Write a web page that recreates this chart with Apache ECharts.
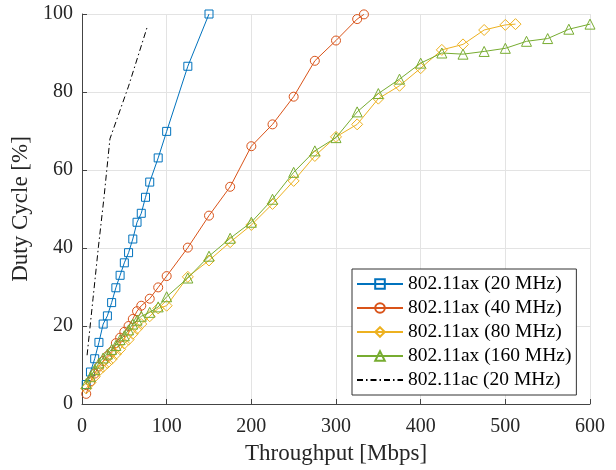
<!DOCTYPE html>
<html><head><meta charset="utf-8">
<script src="https://cdn.jsdelivr.net/npm/echarts@6/dist/echarts.min.js"></script>
<style>html,body{margin:0;padding:0;background:#fff}#c{width:616px;height:470px}</style>
</head><body><div id="c"></div>
<script>
const seriesNames = ['802.11ax (20 MHz)','802.11ax (40 MHz)','802.11ax (80 MHz)','802.11ax (160 MHz)','802.11ac (20 MHz)'];
const xTicks = [0,100,200,300,400,500,600];
const yTicks = [0,20,40,60,80,100];

const ax20X = [5,10,15,20,25,30,35,40,45,50,55,60,65,70,75,80,90,100,125,150];
const ax20Y = [5,8.2,11.6,15.8,20.5,22.6,26,29.8,33,36.2,38.8,42.3,46.6,48.9,53,56.9,63.1,69.9,86.6,100];

const ax40X = [5,10,15,20,25,30,35,40,45,50,55,60,65,70,80,90,100,125,150,175,200,225,250,275,300,325,333];
const ax40Y = [2.6,5.8,7.8,9.6,11,12.3,13.4,15.6,17,18.5,20,21.8,23.8,25.2,27,29.9,32.8,40.1,48.3,55.7,66.1,71.7,78.8,88,93.2,98.7,99.9];

const ax80X = [5,10,15,20,25,30,35,40,45,50,55,60,65,70,80,90,100,125,150,175,200,225,250,275,300,325,350,375,400,425,450,475,500,512];
const ax80Y = [4,5.5,7,8.5,9.5,10.5,11.5,12.8,14,15.5,16.5,18,19.3,20.5,22.5,24.5,25.2,32.6,36.8,41.5,45.9,51.3,57.2,63.6,68.5,71.7,78.3,81.6,86.1,90.8,92.2,95.9,97.2,97.4];

const ax160X = [5,10,15,20,25,30,35,40,45,50,55,60,65,70,80,90,100,125,150,175,200,225,250,275,300,325,350,375,400,425,450,475,500,525,550,575,600];
const ax160Y = [5.2,7,8.8,10.5,11.8,12.8,14,15,16.5,17.5,19,20.5,21.5,22.5,23.5,24.9,27.5,32.3,37.9,42.5,46.6,52.5,59.4,64.9,68.3,74.9,79.6,83.3,87.4,90,89.7,90.4,91.2,93,93.7,96.1,97.4];

const ac20X = [6,13,19.5,26,33,55,77.5];
const ac20Y = [12.5,27,40.5,53,68,81.5,97];

const colors = ['#0072BD','#D95319','#EDB120','#77AC30','#000000'];
const symbols = ['rect','circle','diamond','triangle','circle'];
const sizes = [8,9,11,10,0];
const xs = [ax20X, ax40X, ax80X, ax160X, ac20X];
const ys = [ax20Y, ax40Y, ax80Y, ax160Y, ac20Y];

const FONT = '"Liberation Serif", "Times New Roman", serif';
const series = seriesNames.map((n,i)=>({
  name:n, type:'line',
  data: xs[i].map((x,j)=>[x, ys[i][j]]),
  symbol: symbols[i], symbolSize: sizes[i],
  showSymbol: i !== 4,
  lineStyle:{color:colors[i], width:1, type: i===4 ? [6,3,1.5,3] : 'solid'},
  itemStyle:{color:'rgba(255,255,255,0)', borderColor: i===4 ? 'rgba(0,0,0,0)' : colors[i], borderWidth: i===4 ? 0 : 1},
  z: 2 + i,
  emphasis:{disabled:true}
}));

const chart = echarts.init(document.getElementById('c'), null, {renderer:'canvas'});
chart.setOption({
  animation:false,
  backgroundColor:'#fff',
  grid:{left:82, right:26, top:14, bottom:64, containLabel:false},
  xAxis:{type:'value', min:xTicks[0], max:xTicks[xTicks.length-1], interval:100,
    name:'Throughput [Mbps]', nameLocation:'middle', nameGap:38,
    nameTextStyle:{fontFamily:FONT, fontSize:23, color:'#262626'},
    axisLine:{show:true, lineStyle:{color:'#444', width:1}},
    axisTick:{show:true, inside:true, length:5, lineStyle:{color:'#444'}},
    axisLabel:{fontFamily:FONT, fontSize:20, color:'#262626', margin:13},
    splitLine:{show:true, lineStyle:{color:'#e3e3e3', width:1}}},
  yAxis:{type:'value', min:yTicks[0], max:yTicks[yTicks.length-1], interval:20,
    name:'Duty Cycle [%]', nameLocation:'middle', nameGap:41,
    nameTextStyle:{fontFamily:FONT, fontSize:23, color:'#262626'},
    axisLine:{show:true, lineStyle:{color:'#444', width:1}},
    axisTick:{show:true, inside:true, length:5, lineStyle:{color:'#444'}},
    axisLabel:{fontFamily:FONT, fontSize:20, color:'#262626', margin:9, padding:[5,0,0,0]},
    splitLine:{show:true, lineStyle:{color:'#e3e3e3', width:1}}},
  legend:{orient:'vertical', left:352, top:269, data:seriesNames,
    itemWidth:46, itemHeight:12, itemGap:4,
    padding:[5,5,5,4], borderColor:'#333', borderWidth:1, backgroundColor:'#fff',
    textStyle:{fontFamily:FONT, fontSize:19.5, color:'#000'}},
  series
});
</script></body></html>
